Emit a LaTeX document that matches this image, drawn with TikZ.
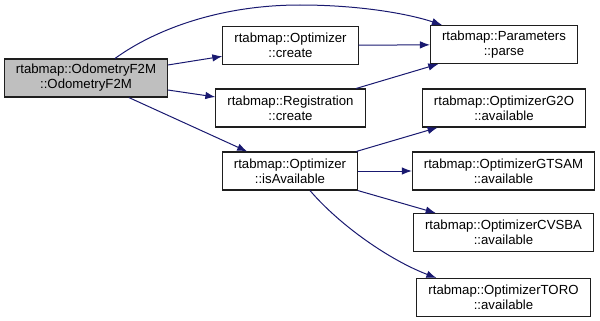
\documentclass[tikz,border=0pt]{standalone}
\usepackage{fontspec}
\setmainfont{Liberation Sans}
\usepackage{tikz}
\usetikzlibrary{arrows.meta,positioning,calc}
\usepackage{xcolor}
\definecolor{callblue}{RGB}{25,25,112}
\definecolor{rootgray}{RGB}{191,191,191}
\definecolor{framegray}{RGB}{30,30,30}

\begin{document}
\begin{tikzpicture}[x=1pt, y=1pt,
  every node/.style={font=\fontsize{13.2}{15}\selectfont},
  fn/.style={draw=framegray, line width=1.1pt, fill=white, align=center, minimum height=38pt, inner xsep=11.5pt, inner ysep=2pt},
  call/.style={callblue, line width=1pt, -{Latex[length=10pt, width=7.5pt]}}]
  \useasboundingbox (0,0) rectangle (600,-321);
  % caller on the left, callees in two columns
  \node[fn, fill=rootgray] (odom) at (86,-78) {rtabmap::OdometryF2M\\::OdometryF2M};
  \node[fn] (optcreate) at (290.5,-45.5) {rtabmap::Optimizer\\::create};
  \node[fn] (regcreate) at (290.5,-108) {rtabmap::Registration\\::create};
  \node[fn] (isavail) at (290,-171) {rtabmap::Optimizer\\::isAvailable};
  \node[fn] (parse) at (504,-44.5) {rtabmap::Parameters\\::parse};
  \node[fn] (g2o) at (504,-108) {rtabmap::OptimizerG2O\\::available};
  \node[fn] (gtsam) at (503.5,-171) {rtabmap::OptimizerGTSAM\\::available};
  \node[fn] (cvsba) at (503.5,-232.5) {rtabmap::OptimizerCVSBA\\::available};
  \node[fn] (toro) at (503.5,-297.5) {rtabmap::OptimizerTORO\\::available};
  \draw[call] ($(odom.north)+(29,0)$) .. controls +(40,29) and +(-80,0) .. (300,-5)
    .. controls +(60,0) and +(-33,11) .. ($(parse.north west)+(12,0)$);
  \draw[call] (odom) -- (optcreate);
  \draw[call] (odom) -- (regcreate);
  \draw[call] (odom) -- (isavail);
  \draw[call] (optcreate) -- (parse);
  \draw[call] (regcreate) -- (parse);
  \draw[call] (isavail) -- (g2o);
  \draw[call] (isavail) -- (gtsam);
  \draw[call] (isavail) -- (cvsba);
  \draw[call] ($(isavail.south)+(20,0)$) .. controls +(30,-35) and +(-47,18) .. ($(toro.north west)+(20,0)$);
\end{tikzpicture}
\end{document}
